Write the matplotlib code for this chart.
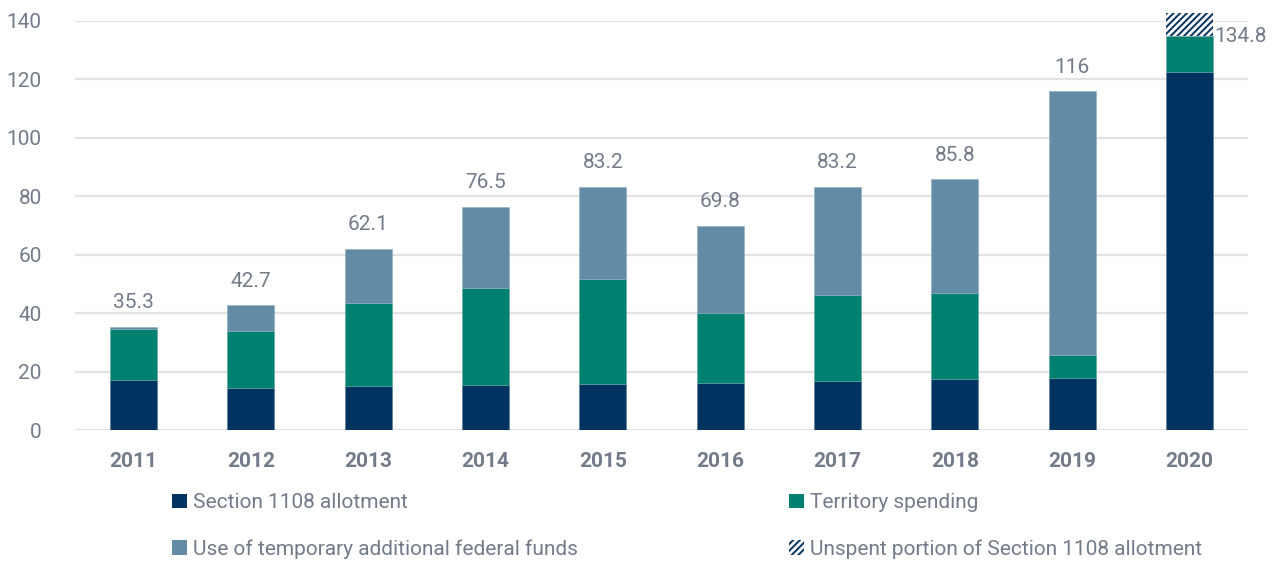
import numpy as np
import matplotlib.pyplot as plt
from matplotlib.patches import Patch

plt.rcParams['font.family'] = ['Roboto', 'DejaVu Sans']

# Data
years = ['2011', '2012', '2013', '2014', '2015', '2016', '2017', '2018', '2019', '2020']
section_1108 = [17.1, 14.4, 15.1, 15.4, 15.7, 16.1, 16.8, 17.5, 17.8, 122.6]
territory = [17.5, 19.5, 28.4, 33.2, 36.0, 24.0, 29.4, 29.4, 7.9, 12.2]
temporary = [0.7, 8.8, 18.6, 27.9, 31.5, 29.7, 37.0, 38.9, 90.3, 0.0]
unspent = [0, 0, 0, 0, 0, 0, 0, 0, 0, 8.0]
totals = ['35.3', '42.7', '62.1', '76.5', '83.2', '69.8', '83.2', '85.8', '116', '134.8']

navy = '#00335F'
teal = '#00806E'
steel = '#628BA5'
grey_txt = '#737A89'
grid_c = '#E1E1E6'

fig = plt.figure(figsize=(12.72, 5.65), dpi=100)
ax = fig.add_axes([75 / 1272, 1 - 430 / 565, (1248 - 75) / 1272, (430 - 21) / 565])

x = np.arange(len(years))
w = 0.4
s = np.array(section_1108)
t = np.array(territory)
u = np.array(temporary)
un = np.array(unspent)

ax.bar(x, s, w, color=navy, edgecolor='#5A7A99', linewidth=0.4, zorder=3)
ax.bar(x, t, w, bottom=s, color=teal, edgecolor='#5AA99A', linewidth=0.4, zorder=3)
ax.bar(x, u, w, bottom=s + t, color=steel, edgecolor='#8FAEC2', linewidth=0.4, zorder=3)
plt.rcParams['hatch.linewidth'] = 1.4
hb = ax.bar(x, un, w, bottom=s + t + u, color='white', edgecolor=navy,
            hatch='/////', linewidth=0, zorder=3)
for b in hb:
    b.set_clip_on(False)

top = s + t + u
for i, lab in enumerate(totals):
    if i == len(totals) - 1:
        ax.text(x[i] + w / 2 + 0.01, top[i], lab, ha='left', va='center',
                fontsize=15, color=grey_txt)
    else:
        ax.text(x[i], top[i] + 5.0, lab, ha='center', va='bottom',
                fontsize=15, color=grey_txt)

ax.set_xlim(-0.5, len(years) - 0.5)
ax.set_ylim(0, 140)
ax.set_yticks(np.arange(0, 141, 20))
ax.set_xticks(x)
ax.set_xticklabels(years, fontweight='bold')
ax.tick_params(axis='y', length=0, pad=24, labelsize=15, labelcolor=grey_txt)
ax.tick_params(axis='x', length=0, pad=16, labelsize=15, labelcolor=grey_txt)
ax.grid(axis='y', color=grid_c, linewidth=1.6, zorder=0)
for sp in ax.spines.values():
    sp.set_visible(False)

kw = dict(frameon=False, fontsize=15, labelcolor=grey_txt, handlelength=0.7,
          handleheight=0.7, handletextpad=0.3, labelspacing=1.3,
          borderpad=0, borderaxespad=0, loc='center left')
fig.legend(handles=[Patch(facecolor=navy), Patch(facecolor=steel)],
           labels=['Section 1108 allotment', 'Use of temporary additional federal funds'],
           bbox_to_anchor=(172 / 1272, 1 - 526 / 565), **kw)
fig.legend(handles=[Patch(facecolor=teal), Patch(facecolor='white', edgecolor=navy, hatch='/////', linewidth=0)],
           labels=['Territory spending', 'Unspent portion of Section 1108 allotment'],
           bbox_to_anchor=(789 / 1272, 1 - 526 / 565), **kw)

fig.savefig('out.png', dpi=100)
